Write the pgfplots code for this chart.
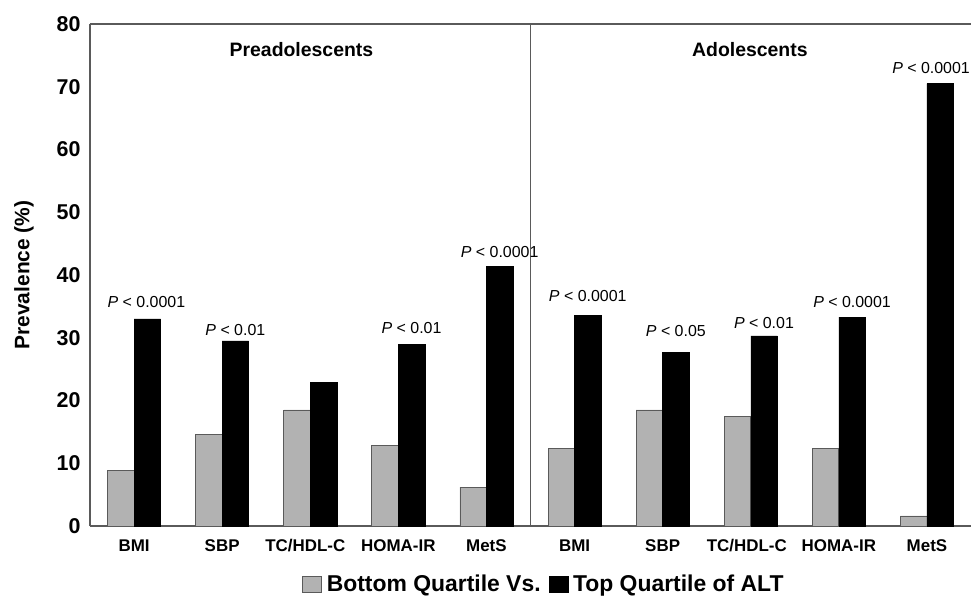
\documentclass[border=0pt]{standalone}
\usepackage{fontspec}
\setmainfont{Liberation Sans}
\usepackage{pgfplots}
\pgfplotsset{compat=1.18}
\definecolor{barGray}{RGB}{178,178,178}
\definecolor{axGray}{RGB}{90,90,90}
\begin{document}
\begin{tikzpicture}
\begin{axis}[
  name=ax,
  scale only axis,
  width=881bp, height=502bp,
  xmin=-0.5, xmax=9.5,
  ymin=0, ymax=80,
  ytick={0,10,...,80},
  xtick={0,...,9},
  xticklabels={BMI,SBP,TC/HDL-C\hspace*{10bp},HOMA-IR,MetS,BMI,SBP,TC/HDL-C\hspace*{8bp},HOMA-IR,MetS},
  /pgf/number format/assume math mode=true,
  axis lines*=left,
  axis line style={axGray, line width=1.2pt},
  major tick length=0pt,
  yticklabel style={font=\fontsize{21.5}{21.5}\selectfont\bfseries, xshift=-6bp},
  xticklabel style={font=\fontsize{17}{17}\selectfont\bfseries, yshift=-10bp},
  ylabel={Prevalence (\%)},
  ylabel style={font=\fontsize{21}{21}\selectfont\bfseries, yshift=16bp},
  ybar=0pt,
  bar width=26.5bp,
  legend style={at={(0.515,0)}, anchor=center, yshift=-58bp, draw=none,
    font=\fontsize{23}{23}\selectfont\bfseries, legend columns=2,
    /tikz/every even column/.append style={column sep=6bp}},
  legend image code/.code={\draw[#1] (0bp,-8bp) rectangle (19bp,8bp); \path (22bp,0bp);},
  clip=false,
]
\addplot[draw=axGray, fill=barGray, line width=0.8pt] coordinates {
(0,8.9) (1,14.6) (2,18.5) (3,12.9) (4,6.2)
(5,12.4) (6,18.5) (7,17.5) (8,12.4) (9,1.6)};
\addlegendentry{Bottom Quartile Vs.}
\addplot[draw=black, fill=black] coordinates {
(0,33.0) (1,29.5) (2,22.9) (3,29.0) (4,41.4)
(5,33.6) (6,27.7) (7,30.3) (8,33.3) (9,70.5)};
\addlegendentry{Top Quartile of ALT}
\draw[axGray, line width=1.2pt] (rel axis cs:0,1) -- (rel axis cs:1,1);
\draw[axGray, line width=1.2pt] (axis cs:4.5,0) -- (axis cs:4.5,80);
\node[font=\fontsize{19.5}{19.5}\selectfont\bfseries] at (axis cs:1.9,76.0) {Preadolescents};
\node[font=\fontsize{19.5}{19.5}\selectfont\bfseries] at (axis cs:6.99,76.0) {Adolescents};
\begin{scope}[every node/.style={font=\fontsize{16}{16}\selectfont, anchor=center}]
\node at (axis cs:0.14,35.7) {\textit{P} < 0.0001};
\node at (axis cs:1.15,31.2) {\textit{P} < 0.01};
\node at (axis cs:3.15,31.6) {\textit{P} < 0.01};
\node at (axis cs:4.15,43.6) {\textit{P} < 0.0001};
\node at (axis cs:5.15,36.6) {\textit{P} < 0.0001};
\node at (axis cs:6.15,31.0) {\textit{P} < 0.05};
\node at (axis cs:7.15,32.3) {\textit{P} < 0.01};
\node at (axis cs:8.15,35.7) {\textit{P} < 0.0001};
\node[anchor=east, inner sep=1bp] at (axis cs:9.5,73.0) {\textit{P} < 0.0001};
\end{scope}
\end{axis}
\pgfresetboundingbox
\path[use as bounding box] ([shift={(-90bp,-70bp)}]ax.south west) rectangle ([shift={(0bp,24bp)}]ax.north east);
\end{tikzpicture}
\end{document}
